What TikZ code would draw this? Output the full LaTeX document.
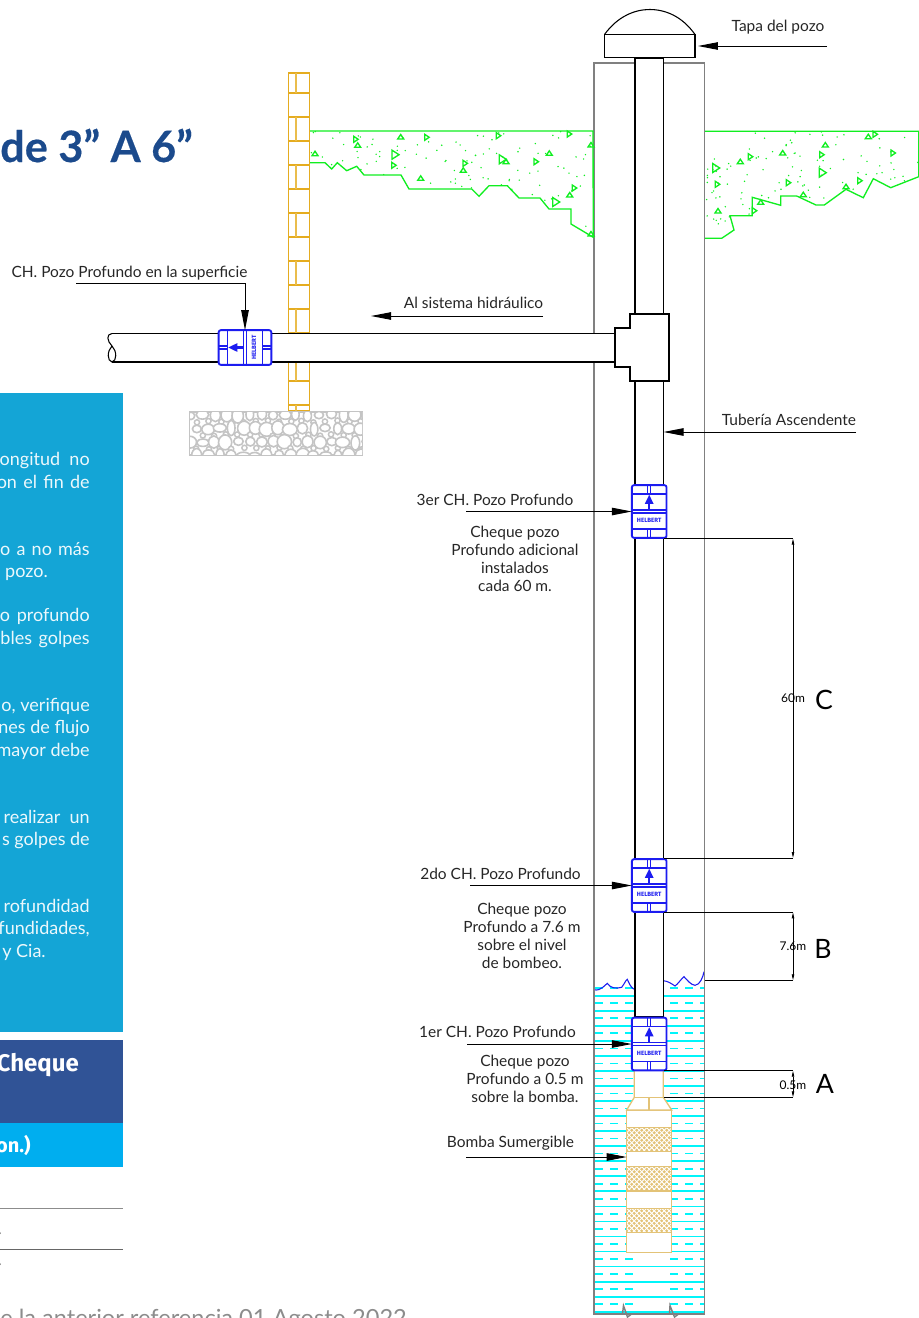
\documentclass[tikz,border=0pt]{standalone}
\usepackage{fontspec}
\setmainfont{Lato}
\newfontfamily\headfont{Fira Sans}
\usetikzlibrary{arrows.meta}
\definecolor{panelblue}{HTML}{14A5D6}
\definecolor{paneldark}{HTML}{305396}
\definecolor{panelcyan}{HTML}{00AEEF}
\definecolor{titleblue}{HTML}{1B4A8C}
\definecolor{brick}{HTML}{E5AC20}
\definecolor{pumptan}{HTML}{E3C377}
\definecolor{valveblue}{HTML}{1C1CF0}
\definecolor{soilgreen}{HTML}{10EE20}
\definecolor{stone}{HTML}{C4C4C4}
\definecolor{waterline}{RGB}{0,245,250}
\tikzset{
  label/.style={font=\fontsize{11.6}{13.5}\selectfont,align=center,inner sep=0pt,text=black!85},
  paneltext/.style={font=\fontsize{13.5}{15}\selectfont,text=white!92!panelblue,inner sep=0pt,anchor=base east,yshift=-0.5pt},
  dimletter/.style={font=\fontsize{20}{21}\selectfont,inner sep=0pt},
  dimtext/.style={font=\fontsize{9}{10}\selectfont,inner sep=0pt},
  leader/.style={-{Triangle[length=15pt,width=5.6pt]},black,line width=0.7pt},
  dimline/.style={black,line width=0.7pt},
  dimarrow/.style={{Triangle[length=4.5pt,width=1.8pt]}-{Triangle[length=4.5pt,width=1.8pt]},black,line width=0.6pt},
  pipe/.style={black,line width=0.8pt},
  soil/.style={soilgreen,line width=1pt},
  valveline/.style={valveblue,line width=1.2pt},
  valve/.pic={
    \node[draw=valveblue,fill=white,line width=1.4pt,rounded corners=1.6pt,transform shape,
      minimum width=26pt,minimum height=39.5pt,inner sep=0pt,outer sep=0pt] (-body) at (0,0) {};
    \draw[valveline] (-17.5,-17.5) -- (17.5,-17.5);
    \draw[valveline] (-17.5,-1.5) -- (17.5,-1.5);
    \draw[valveline] (-17.5,1.5) -- (17.5,1.5);
    \draw[valveline] (-17.5,17.5) -- (17.5,17.5);
    \draw[valveline,line width=0.9pt] (-1.5,-26.5) rectangle (1.5,-17.5);
    \draw[valveline,line width=0.9pt] (-1.5,17.5) rectangle (1.5,26.5);
    \draw[-{Triangle[length=7pt,width=6pt]},valveblue,line width=1.8pt] (0,-2) -- (0,-17);
    \node[transform shape,text=valveblue,inner sep=0pt,font=\fontsize{4.6}{5}\headfont\bfseries] (-brand) at (0,9) {HELBERT};
  }
}
\newcommand{\triright}[2]{\draw[soil] (#1-2,#2-3) -- (#1+2.5,#2) -- (#1-2,#2+3) -- cycle;}
\newcommand{\triup}[2]{\draw[soil] (#1-3,#2+2) -- (#1,#2-2.5) -- (#1+3,#2+2) -- cycle;}
\begin{document}
\begin{tikzpicture}[x=0.75pt,y=-0.75pt]
\useasboundingbox (0,0) rectangle (919,1318);
\def\groundleft{(310,131) -- (593,131) -- (593.3,237.3) -- (571,224) -- (571,209) -- (549,209) -- (540,198) -- (519,198) -- (507.3,185.7) -- (489,185.7) -- (479,196.3) -- (471.7,189) -- (409,189) -- (401,175) -- (364,175) -- (356.7,166.3) -- (346.7,170.7) -- (337.3,162.7) -- (331.7,169) -- (325,162.7) -- (310,162.7)}
\def\groundright{(705,131.3) -- (918.7,131.3) -- (918.7,176.7) -- (890.7,187.7) -- (873.3,178.7) -- (863.3,197.7) -- (846,189.3) -- (824.3,205) -- (816,205) -- (796.7,196) -- (780.7,196) -- (780.7,205.3) -- (752.3,197.3) -- (752.3,215.7) -- (730,215.7) -- (734,230) -- (721.7,238.3) -- (705,238.3)}

% side panels
\fill[panelblue] (0,393) rectangle (123,1032);
\fill[paneldark] (0,1040) rectangle (123,1123);
\fill[panelcyan] (0,1123) rectangle (123,1167);
\draw[black!45,line width=0.7pt] (0,1208) -- (123,1208);
\draw[black!60,line width=0.7pt] (0,1249) -- (123,1249);
\node[anchor=base west,inner sep=0pt,text=black!50,font=\fontsize{11}{12}\selectfont] (tabone) at (-2,1234) {.};
\node[anchor=base west,inner sep=0pt,text=black!50,font=\fontsize{11}{12}\selectfont] (tabtwo) at (-2,1265) {.};
\node[anchor=base west,inner sep=0pt,text=titleblue,font=\fontsize{32.4}{33}\selectfont\bfseries\addfontfeature{FakeBold=0.4}] (title) at (0,162) {de 3” A 6”};
\foreach \y/\x/\t [count=\i] in {465/90/ongitud\hspace{3.5pt} no,487.5/90/on\hspace{1.3pt} el\hspace{1.3pt} fin\hspace{1.3pt} de,554.5/90/o\hspace{1.2pt} a\hspace{1.2pt} no\hspace{1.2pt} más,577/48/pozo.,621/90/o\hspace{1.5pt} profundo,644/90/bles\hspace{1.5pt} golpes,710.5/90/{o, verifique},733/90/nes de flujo,755.5/90/mayor debe,822.5/90/realizar\ \ un,845/90/s golpes de,911.5/90/rofundidad,934/90/{fundidades,},956.5/46/y Cia.}{
  \node[paneltext] (para\i) at (\x,\y) {\t};
}
\node[anchor=base east,inner sep=0pt,text=white,font=\fontsize{18}{19}\headfont\bfseries] (headcheque) at (79,1071.5) {Cheque};
\node[anchor=base east,inner sep=0pt,text=white,font=\fontsize{15}{18}\headfont\bfseries] (headon) at (31,1152.5) {on.)};
\node[anchor=base west,inner sep=0pt,text=black!45,font=\fontsize{17.7}{18}\selectfont] (footnote) at (0,1326) {e la anterior referencia 01 Agosto 2022};

% water inside the casing
\foreach \k in {0,...,21}{
  \pgfmathsetmacro\ys{995.7+15.05*\k}
  \pgfmathsetmacro\yd{\ys-7.6}
  \draw[waterline,line width=1.3pt] (594,\ys) -- (704,\ys);
  \draw[waterline,line width=1.2pt,dash pattern=on 6pt off 5.25pt] (595,\yd) -- (636,\yd);
  \draw[waterline,line width=1.2pt,dash pattern=on 6pt off 5.25pt] (670,\yd) -- (704,\yd);
}
\draw[valveblue,line width=0.8pt] (593.3,989.3) .. controls (597,991) and (600,990.3) .. (607.3,983.3) .. controls (610,988) and (616,989) .. (621.7,987.3) .. controls (624,985) and (625,981) .. (627.3,979.3) .. controls (629,983) and (631,988) .. (634.3,989.3);
\draw[valveblue,line width=0.8pt] (663.3,980.7) .. controls (668,981) and (672,984) .. (675,986) .. controls (678,984) and (681,979) .. (684,976.7) .. controls (687,980) and (691,985) .. (695,985.3) .. controls (700,985) and (703,977) .. (704,971.7);

% casing
\node[draw=black!50,line width=1.2pt,minimum width=82.9pt,minimum height=938.25pt,inner sep=0pt,outer sep=0pt] (casing) at (649.25,688.5) {};
\fill[white] (590,1314.6) rectangle (710,1320);
\draw[black!50,line width=1.1pt] (594,1314) -- (622.5,1314) -- (623.5,1305.7) -- (627.5,1317) -- (631.5,1314) -- (669.5,1314) -- (670,1305.7) -- (674.5,1317) -- (678.5,1314) -- (704.5,1314);

% ground
\begin{scope}
\clip \groundleft -- cycle;
\pgfmathsetseed{11}
\foreach \i in {1,...,170}{
  \pgfmathsetmacro\dx{310+283*rnd}
  \pgfmathsetmacro\dy{131+100*rnd}
  \fill[soilgreen] (\dx,\dy) circle (0.8);
}
\end{scope}
\begin{scope}
\clip \groundright -- cycle;
\pgfmathsetseed{23}
\foreach \i in {1,...,140}{
  \pgfmathsetmacro\dx{705+214*rnd}
  \pgfmathsetmacro\dy{131+100*rnd}
  \fill[soilgreen] (\dx,\dy) circle (0.8);
}
\end{scope}
\draw[soil] \groundleft;
\draw[soil] \groundright;
\foreach \x/\y in {355.7/139.3,393.7/165.3,426.7/137.3,498.3/135.7,465/163.3,536/161.7,569.3/134,574.3/188,875/134.3,893/153,821.7/154.7,750.3/156.7,717.3/184.3,788.3/182.7,859.7/180.7,754.3/210.7}{
  \triright{\x}{\y}
}
\foreach \x/\y in {395/154.7,502.3/159.3,555.7/202,822.3/172.7,715.7/168}{
  \draw[soil] (\x-3,\y-4.5) -- (\x+4,\y) -- (\x-3,\y+4.5) -- cycle;
}
\foreach \x/\y in {357.7/145.3,315/153.7,400.7/137,506/161.7,463.3/170.3,420.7/178.3,549.3/153.3,591/145,569.7/195,591/234,868.3/136.7,825.3/145,782.7/153,740.3/161.7,803.3/194.7,846/186.7,760.7/202.3,718/211}{
  \triup{\x}{\y}
}

% wall and footing
\draw[brick,line width=1.3pt] (288.5,73) rectangle (309.5,411);
\foreach \y [count=\i] in {93.3,117.3,...,406}{
  \draw[brick,line width=1.3pt] (288.5,\y) -- (309.5,\y);
}
\foreach \y in {73,117.3,165.3,213.3,261.3,309.3,357.3}{
  \pgfmathsetmacro\yb{\y==73 ? 93.3 : \y+24}
  \draw[brick!80,line width=1.5pt] (296,\y) -- (296,\yb);
}
\draw[brick!80,line width=1.5pt] (296,405.3) -- (296,411);
\node[fill=white,draw=stone,line width=1.3pt,minimum width=129.6pt,minimum height=32.2pt,inner sep=0pt,outer sep=0pt] (footing) at (276,433.5) {};
\begin{scope}
\clip (190,412.5) rectangle (362,454.5);
\pgfmathsetseed{5}
\foreach \i in {0,...,15}{
  \foreach \j in {0,...,3}{
    \pgfmathsetmacro\gx{190+11.7*\i+5.8*mod(\j,2)+2*rnd}
    \pgfmathsetmacro\gy{414+13.5*\j+2*rnd}
    \pgfmathsetmacro\rx{3.5+4*rnd}
    \pgfmathsetmacro\ry{3.5+4*rnd}
    \draw[stone,fill=white,line width=1.2pt] (\gx,\gy) ellipse [x radius=\rx,y radius=\ry];
    \draw[stone,fill=white,line width=1.1pt] (\gx+6,\gy+6.5) circle (2.6);
  }
}
\end{scope}

% riser and horizontal discharge
\node[draw=black,fill=white,line width=0.8pt,minimum width=21.4pt,minimum height=719.25pt,inner sep=0pt,outer sep=0pt] (riser) at (649.25,537.5) {};
\fill[white] (112,333.5) rectangle (616,362);
\draw[pipe] (112,333.5) -- (615,333.5);
\draw[pipe] (112,362) -- (615,362);
\draw[pipe] (112,333.5) .. controls (106,334) and (107,341) .. (112,346) .. controls (117,351) and (117,361) .. (112,362) .. controls (107,361) and (107,351) .. (112,346);
\draw[pipe,fill=white] (615,328) -- (630,328) -- (630,314) -- (669,314) -- (669,381) -- (630,381) -- (630,367) -- (615,367) -- cycle;

% well head
\node[draw=black,fill=white,line width=0.8pt,minimum width=67.9pt,minimum height=17.25pt,inner sep=0pt,outer sep=0pt] (cap) at (649.75,46) {};
\draw[pipe] (cap.north west) .. controls (618,16) and (635,9.5) .. (649.75,9.5) .. controls (665,9.5) and (682,16) .. (cap.north east);

% pump
\node[draw=pumptan,fill=white,line width=1pt,minimum width=33.75pt,minimum height=106.5pt,inner sep=0pt,outer sep=0pt] (pump) at (649.2,1181.2) {};
\draw[pumptan,line width=1pt,fill=white] (634.3,1071) -- (634.3,1097.3) -- (626.7,1110) -- (671.7,1110) -- (663.3,1097.3) -- (663.3,1071);
\draw[pumptan,line width=1pt] (634.3,1097.3) -- (663.3,1097.3);
\draw[pumptan,line width=1pt] (649,1097.3) -- (649,1110);
\foreach \ya/\yb in {1127.7/1151.7,1166.7/1191,1208.3/1232.7}{
  \begin{scope}
  \clip (626.7,\ya) rectangle (671.7,\yb);
  \fill[pumptan] (626.7,\ya) rectangle (671.7,\yb);
  \foreach \s in {-30,-25,...,80}{
    \draw[white,line width=0.7pt] (626.7+\s,\ya) -- ++(30,30);
    \draw[white,line width=0.7pt] (671.7-\s,\ya) -- ++(-30,30);
  }
  \end{scope}
  \draw[pumptan,line width=1pt] (626.7,\ya) rectangle (671.7,\yb);
}

% check valves
\pic[rotate=90] (vsurf) at (245,347.5) {valve};
\pic (vthree) at (649.2,511.5) {valve};
\pic (vtwo) at (649.2,885.5) {valve};
\pic (vone) at (649.2,1044) {valve};

% labels and leaders
\node[label] (tapa) at (778,27) {Tapa del pozo};
\coordinate (ltapa) at (827,46);
\draw[leader,shorten >=2.2pt] (ltapa) -- (cap);
\node[label] (surf) at (129.5,273) {CH. Pozo Profundo en la superficie};
\coordinate (lsurf) at (76,283);
\draw[leader] (lsurf) -| (vsurf-body.east);
\node[label] (sistema) at (473.5,303) {Al sistema hidráulico};
\coordinate (lsistema) at (543,316);
\coordinate (esistema) at (371,316);
\draw[leader] (lsistema) -- (esistema);
\node[label] (tuberia) at (789,420) {Tubería Ascendente};
\coordinate (ltuberia) at (856,432);
\draw[leader] (ltuberia) -- (riser.east |- ltuberia);
\node[label] (chthree) at (495,500) {3er CH. Pozo Profundo};
\coordinate (lthree) at (466,511.5);
\draw[leader] (lthree) -- (vthree-body.west);
\node[label] (notethree) at (515,559) {Cheque pozo\\Profundo adicional\\instalados\\cada 60 m.};
\node[label] (chtwo) at (500.5,874) {2do CH. Pozo Profundo};
\coordinate (ltwo) at (470,885.5);
\draw[leader] (ltwo) -- (vtwo-body.west);
\node[label] (notetwo) at (522,936) {Cheque pozo\\Profundo a 7.6 m\\sobre el nivel\\de bombeo.};
\node[label] (chone) at (497.5,1032) {1er CH. Pozo Profundo};
\coordinate (lone) at (467,1044);
\draw[leader] (lone) -- (vone-body.west);
\node[label] (noteone) at (525,1079) {Cheque pozo\\Profundo a 0.5 m\\sobre la bomba.};
\node[label] (bomba) at (510.5,1143) {Bomba Sumergible};
\coordinate (lbomba) at (466,1157);
\draw[leader] (lbomba) -- (pump.west |- lbomba);

% dimensions
\coordinate (dca) at (793,538.5);
\coordinate (dcb) at (793,858);
\coordinate (dba) at (793,912.3);
\coordinate (dbb) at (793,980.3);
\coordinate (daa) at (793,1070.7);
\coordinate (dab) at (793,1097.3);
\draw[dimline] (riser.east |- dca) -- (dca);
\draw[dimline] (riser.east |- dcb) -- (dcb);
\draw[dimline] (riser.east |- dba) -- (dba);
\draw[dimline] (casing.east |- dbb) -- (dbb);
\draw[dimline] (riser.east |- daa) -- (daa);
\draw[dimline] (riser.east |- dab) -- (dab);
\draw[dimarrow] (dca) -- (dcb);
\draw[dimarrow] (dba) -- (dbb);
\draw[dimarrow] (daa) -- (dab);
\node[dimtext] (dimc) at (793,698) {60m};
\node[dimletter] (letterc) at (824,700) {C};
\node[dimtext] (dimb) at (793,946) {7.6m};
\node[dimletter] (letterb) at (823,949) {B};
\node[dimtext] (dima) at (793,1085) {0.5m};
\node[dimletter] (lettera) at (825,1084) {A};
\end{tikzpicture}
\end{document}
